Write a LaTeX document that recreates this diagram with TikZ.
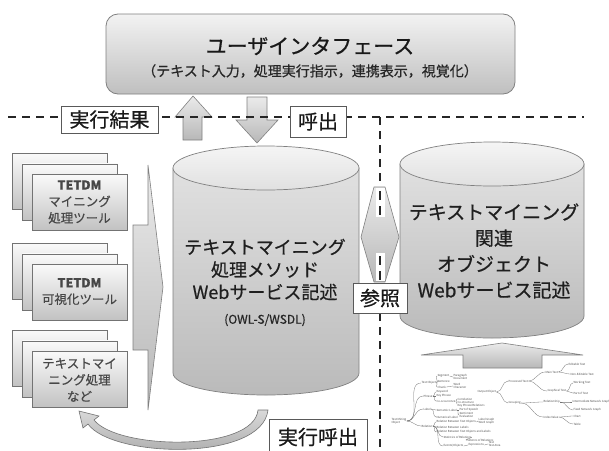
\documentclass[tikz,border=0pt]{standalone}
\usepackage{fontspec}
\setmainfont{Noto Sans CJK JP}[FakeBold=0.6]
\newfontfamily\treefont{Noto Sans CJK JP}
\newcommand\drawcyl[5]{%
  \pgfmathsetmacro\cyX{(#1+#2)/2}%
  \pgfmathsetmacro\cyR{(#2-#1)/2}%
  \path[cylbody] (#1,#3) -- (#1,#4) .. controls (#1,{#4+0.5523*#5}) and ({\cyX-0.5523*\cyR},{#4+#5}) .. (\cyX,{#4+#5})
     .. controls ({\cyX+0.5523*\cyR},{#4+#5}) and (#2,{#4+0.5523*#5}) .. (#2,#4) -- (#2,#3) -- cycle;
  \path[cyltop] (\cyX,#3) ellipse [x radius=\cyR pt, y radius=#5 pt];
}
\begin{document}
\begin{tikzpicture}[x=1pt,y=-1pt,
  dashln/.style={line width=2pt, dash pattern=on 8pt off 6pt, black!85},
  lbl/.style={draw=black!65, line width=0.8pt, fill=white, inner sep=0pt, text=black!90, font=\fontsize{20}{24}\selectfont},
  card/.style={draw=black!55, line width=0.6pt, top color=black!2, bottom color=black!24, minimum width=95pt, minimum height=56pt, inner sep=0pt},
  cardtxt/.style={align=center, text=black!72, font=\fontsize{12.5}{16.5}\selectfont},
  blockarrow/.style={draw=black!50, line width=0.6pt, top color=black!8, bottom color=black!28},
  cylbody/.style={draw=black!50, line width=0.7pt, top color=black!12, bottom color=black!27},
  cyltop/.style={draw=black!50, line width=0.7pt, top color=black!4, bottom color=black!12},
  cyltxt/.style={align=center, text=black!88},
  tr/.style={font=\treefont\fontsize{2.8}{3.2}\selectfont, text=black!70, inner sep=0.3pt, anchor=west, align=left},
  trl/.style={draw=black!55, line width=0.3pt},
]
\useasboundingbox (0,0) rectangle (609,450);
\fill[white] (0,0) rectangle (609,450);

% user interface box
\node[draw=black!50, line width=0.8pt, rounded corners=12pt, top color=black!5, bottom color=black!25,
      minimum width=409pt, minimum height=80pt] (ui) at (310.5,54) {};
\node[text=black!90, font=\fontsize{21}{24}\selectfont] (uititle) at (310,46) {ユーザインタフェース};
\node[text=black!85, font=\fontsize{14}{16}\selectfont] (uisub) at (310,71) {（テキスト入力，処理実行指示，連携表示，視覚化）};

% up / down arrows
\path[blockarrow] (193,96) -- (212,117) -- (202,117) -- (202,140) -- (183,140) -- (183,117) -- (175,117) -- cycle;
\path[blockarrow] (247,97) -- (267,97) -- (267,120) -- (278,120) -- (257,143) -- (236,120) -- (247,120) -- cycle;

% cylinders
\drawcyl{173}{359}{168}{373}{22}
\coordinate (cylL) at (266,270);
\node[cyltxt, font=\fontsize{18}{22.5}\selectfont] (ltxt) at (265,269.5) {テキストマイニング\\処理メソッド\\Webサービス記述};
\node[text=black!85, font=\fontsize{12}{14}\selectfont] (owl) at (265,320) {(OWL-S/WSDL)};

\drawcyl{400}{584}{164}{316}{22}
\coordinate (cylR) at (492,250);
\node[cyltxt, font=\fontsize{19}{26}\selectfont] (rtxt) at (494,251) {テキストマイニング\\関連\\オブジェクト\\Webサービス記述};

% left card stacks
\foreach \yb/\nm in {153/a,243/b,330/c}{
  \node[card, anchor=north west] (\nm1) at (12,\yb) {};
  \node[card, anchor=north west] (\nm2) at (22,\yb+10.5) {};
  \node[card, anchor=north west] (\nm3) at (32,\yb+21) {};
}
\node[cardtxt] (ta) at (79.5,202) {{\bfseries TETDM}\\マイニング\\処理ツール};
\node[cardtxt] (tb) at (79.5,291.5) {{\bfseries TETDM}\\可視化ツール};
\node[cardtxt] (tc) at (79.5,380) {テキストマイ\\ニング処理\\など};

% big right arrow
\path[blockarrow] (133,225) -- (148,225) -- (148,165) -- (163,287) -- (148,410) -- (148,350) -- (133,350) -- cycle;

% wide up arrow under right cylinder
\path[blockarrow] (421,355) -- (502,343) -- (583,355) -- (542,355) -- (542,368) -- (463,368) -- (463,355) -- cycle;

% tree (right part)
\node[tr] (oo) at (477,392) {Output Object};
\node[tr] (pt) at (508,381) {Processed Text};
\node[tr] (gr) at (508,403) {Grouping};
\node[tr] (mt) at (545,372) {Main Text};
\node[tr] (gt) at (547,391) {Graphical Text};
\node[tr] (et) at (568,364) {Editable Text};
\node[tr] (nt) at (570,374) {Non-Editable Text};
\node[tr] (wt) at (573,383) {Working Text};
\node[tr] (pa) at (573,393) {Part of Text};
\node[tr] (rl) at (543,402) {Relationship};
\node[tr] (iv) at (543,417) {Index Value};
\node[tr] (ig) at (572,402) {Intermediate Network Graph};
\node[tr] (fg) at (573,410) {Fixed Network Graph};
\node[tr] (ch) at (573,416) {Chart};
\node[tr] (tb2) at (573,424) {Table};
% tree (left part)
\node[tr] (tm) at (391,421) {Text Mining\\Object};
\node[tr] (to) at (421,383) {Text Object};
\node[tr] (ph) at (423,396) {Phrase};
\node[tr] (lb) at (423,409) {Label};
\node[tr] (rn) at (421,426) {Relation};
\node[tr] (sg) at (437,376) {Segment};
\node[tr] (se) at (437,381) {Sentence};
\node[tr] (ck) at (437,387) {Chunk};
\node[tr] (pd) at (453,377) {Paragraph\\Document};
\node[tr] (wd) at (453,386) {Word\\Character};
\node[tr] (kw) at (436,392) {Keyword};
\node[tr] (kp) at (436,396) {Key Phrase};
\node[tr] (co) at (436,401) {Co-occurrence};
\node[tr] (cl) at (457,399) {Correlation};
\node[tr] (cs) at (457,404) {Co-structure\\Key Phrase Relations};
\node[tr] (sl) at (436,410) {Semantic Label};
\node[tr] (nl) at (436,417) {Numerical Label};
\node[tr] (ps) at (459,410) {Part of Speech};
\node[tr] (sv) at (459,415) {Sentiment\\Evaluation};
\node[tr] (r1) at (436,422) {Relation Between Text Objects};
\node[tr] (r2) at (436,427) {Relation Between Labels};
\node[tr] (r3) at (436,432) {Relation Between Text Objects and Labels};
\node[tr] (lg) at (478,421) {Label Graph\\Word Graph};
\node[tr] (sr) at (443,437) {Statistics of Relations};
\node[tr] (pr) at (466,440) {Patterns of Relations};
\node[tr] (ev) at (443,446) {Events/Objects};
\node[tr] (ex) at (468,445) {Expressions};
\node[tr] (tx) at (488,444) {Text\\Text Area};
\foreach \a/\b in {oo/pt,oo/gr,pt/mt,pt/gt,mt/et,mt/nt,gt/wt,gt/pa,gr/rl,gr/iv,rl/ig,rl/fg,iv/ch,iv/tb2,
  tm/to,tm/ph,tm/lb,tm/rn,to/sg,to/se,to/ck,sg/pd,ck/wd,ph/kw,ph/kp,ph/co,co/cl,co/cs,lb/sl,lb/nl,sl/ps,sl/sv,
  rn/r1,rn/r2,rn/r3,r1/lg,rn/sr,sr/pr,rn/ev,ev/ex,ex/tx}
  \draw[trl] (\a.east) to[out=0,in=180] (\b.west);

% curved arrow (execution call)
\path[draw=black!55, line width=0.6pt, top color=black!15, bottom color=black!35]
  (268,410) .. controls (262,462) and (112,458) .. (88,424) -- (83,428) -- (79,411) -- (99,416) -- (94,420)
  .. controls (118,450) and (254,452) .. (258,410) -- cycle;

% dashed separators
\coordinate (dl) at (8,117);
\coordinate (dc) at (380,117);
\coordinate (dr) at (584,117);
\coordinate (db) at (380,450);
\draw[dashln] (dl) -- (dr);
\draw[dashln] (dc) -- (db);

% double arrow between cylinders
\path[blockarrow] (361,237) -- (374,187) -- (385,187) -- (399,237) -- (385,282) -- (374,282) -- cycle;
\fill[white] (375.5,188) rectangle (384.5,217);
\fill[white] (375.5,253) rectangle (384.5,281);
\draw[black!85, line width=2pt] (380,191) -- (380,200) (380,206) -- (380,215);
\draw[black!85, line width=2pt] (380,256) -- (380,265) (380,271) -- (380,280);

% labels
\node[lbl, minimum width=97pt, minimum height=27pt] (l1) at (109.5,119.5) {実行結果};
\node[lbl, minimum width=56pt, minimum height=31pt] (l2) at (318,121.5) {呼出};
\node[lbl, minimum width=54pt, minimum height=30pt] (l3) at (380,298) {参照};
\node[lbl, minimum width=98pt, minimum height=36pt] (l4) at (318,437) {実行呼出};
\end{tikzpicture}
\end{document}
